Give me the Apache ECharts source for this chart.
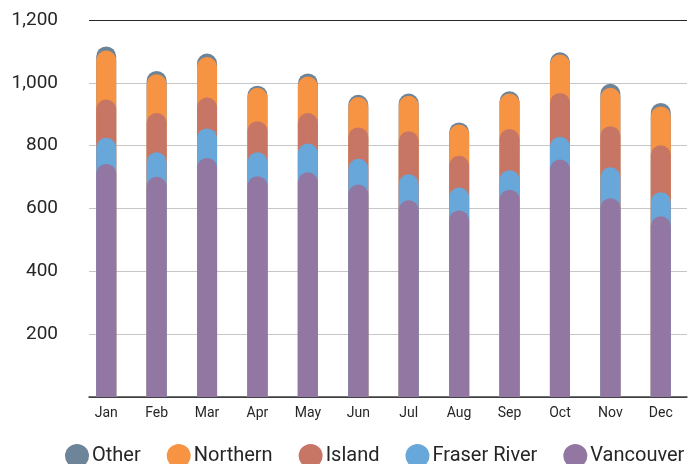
<!DOCTYPE html>
<html>
<head>
<meta charset="utf-8">
<script src="https://cdn.jsdelivr.net/npm/echarts@6/dist/echarts.min.js"></script>
<style>
  html, body { margin: 0; padding: 0; background: #fff; }
  #chart { width: 699px; height: 464px; }
</style>
</head>
<body>
<div id="chart"></div>
<script>
const months = ['Jan','Feb','Mar','Apr','May','Jun','Jul','Aug','Sep','Oct','Nov','Dec'];
const vancouver  = [742, 701, 761, 703, 715, 676, 626, 594, 660, 756, 633, 575];
const fraserRiver = [83, 78, 94, 76, 92, 82, 83, 73, 62, 72, 98, 77];
const island     = [122, 125, 98, 99, 97, 100, 137, 101, 131, 140, 131, 149];
const northern   = [156, 123, 129, 106, 116, 97, 113, 99, 113, 122, 122, 124];
const other      = [13, 11, 11, 7, 10, 7, 7, 7, 7, 7, 13, 11];
const yTicks = [0, 200, 400, 600, 800, 1000, 1200];

const FONT = "Roboto, sans-serif";

// cumulative tops (bars overlap, drawn back to front)
const layers = [
  { name: 'Vancouver',    data: vancouver,   color: '#9277a3' },
  { name: 'Fraser River', data: fraserRiver, color: '#67a7d9' },
  { name: 'Island',       data: island,      color: '#c77666' },
  { name: 'Northern',     data: northern,    color: '#f69444' },
  { name: 'Other',        data: other,       color: '#6e8499' }
];
const cum = [];
let running = months.map(() => 0);
layers.forEach(l => {
  running = running.map((v, i) => v + l.data[i]);
  cum.push({ name: l.name, color: l.color, data: running.slice() });
});
const drawOrder = cum.slice().reverse(); // Other first (back), Vancouver last (front)

const chart = echarts.init(document.getElementById('chart'), null, { renderer: 'canvas' });
chart.setOption({
  animation: false,
  backgroundColor: '#ffffff',
  grid: [
    { left: 89, right: 12, top: 20, bottom: 67 },
    { left: 81, right: 13, top: 20, bottom: 67 }
  ],
  legend: {
    data: drawOrder.map(s => s.name),
    left: 60,
    top: 439,
    icon: 'circle',
    itemWidth: 24,
    itemHeight: 24,
    itemGap: 26,
    textStyle: { fontFamily: FONT, fontSize: 20, color: '#262626', padding: [0, 0, 0, -2] }
  },
  xAxis: [
    {
      gridIndex: 0, type: 'category', data: months,
      axisLine: { show: true, lineStyle: { color: '#404040', width: 1.5 } },
      axisTick: { show: false }, axisLabel: { show: false }, splitLine: { show: false }
    },
    {
      gridIndex: 1, type: 'category', data: months,
      axisLine: { show: false }, axisTick: { show: false },
      axisLabel: { fontFamily: FONT, fontSize: 14, color: '#262626', margin: 9 }
    }
  ],
  yAxis: [
    {
      gridIndex: 0, type: 'value', min: yTicks[0], max: yTicks[yTicks.length - 1], interval: 200,
      axisLine: { show: false }, axisTick: { show: false },
      axisLabel: {
        showMinLabel: false, fontFamily: FONT, fontSize: 19, color: '#262626', margin: 31,
        formatter: v => v.toLocaleString('en-US')
      },
      splitLine: { show: true, lineStyle: { color: ['#404040', '#c6c6c6', '#c6c6c6', '#c6c6c6', '#c6c6c6', '#c6c6c6', '#262626'], width: 1.2 } }
    },
    {
      gridIndex: 1, type: 'value', min: yTicks[0], max: yTicks[yTicks.length - 1], interval: 200,
      show: false, splitLine: { show: false }
    }
  ],
  series: drawOrder.map(s => ({
    name: s.name,
    type: 'bar',
    xAxisIndex: 1,
    yAxisIndex: 1,
    data: s.data,
    barWidth: 20,
    barGap: '-100%',
    itemStyle: { color: s.color, borderRadius: [10, 10, 0, 0] }
  }))
});
</script>
</body>
</html>
